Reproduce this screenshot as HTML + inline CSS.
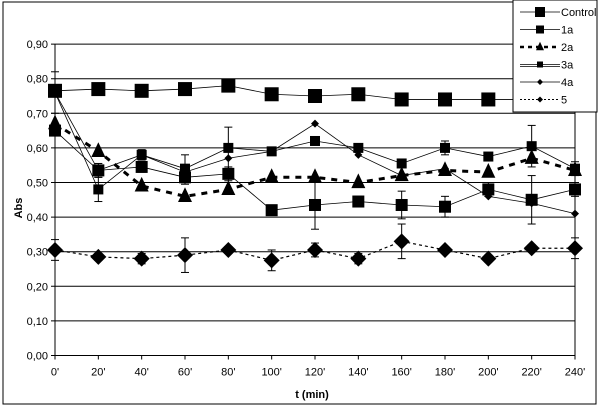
<!DOCTYPE html>
<html><head><meta charset="utf-8"><style>
body{margin:0;background:#fff}
svg{display:block;font-family:"Liberation Sans",Arial,sans-serif}
</style></head><body>
<svg id="c" width="600" height="411" viewBox="0 0 600 411">
<rect x="3" y="2" width="593" height="402" fill="#fff" stroke="#000" stroke-width="1"/>
<g id="grid"></g><g id="series"></g><g id="axes"></g>
<text x="0" y="0" transform="translate(22,208) rotate(-90)" text-anchor="middle" font-size="11" font-weight="bold">Abs</text>
<text x="312" y="398" text-anchor="middle" font-size="11" font-weight="bold">t (min)</text>
<g id="legend"></g>
</svg>
<script>
const categories=["0'","20'","40'","60'","80'","100'","120'","140'","160'","180'","200'","220'","240'"];
const yTicks=[0,0.1,0.2,0.3,0.4,0.5,0.6,0.7,0.8,0.9];
const control=[0.765,0.77,0.765,0.77,0.78,0.755,0.75,0.755,0.74,0.74,0.74,0.74,0.74];
const s1a=[0.76,0.48,0.58,0.54,0.60,0.59,0.62,0.60,0.555,0.60,0.575,0.605,0.54];
const s2a=[0.67,0.59,0.49,0.46,0.48,0.515,0.515,0.50,0.52,0.535,0.53,0.57,0.535];
const s3a=[0.65,0.535,0.545,0.515,0.525,0.42,0.435,0.445,0.435,0.43,0.48,0.45,0.48];
const s4a=[0.76,0.535,0.58,0.53,0.57,0.59,0.67,0.58,0.52,0.54,0.46,0.44,0.41];
const s5=[0.305,0.285,0.28,0.29,0.305,0.275,0.305,0.28,0.33,0.305,0.28,0.31,0.31];
const err1a=[0.06,0.035,0.015,0.04,0.06,0.01,0.01,0.01,0.01,0.02,0.01,0.06,0.02];
const err3a=[0.01,0.02,0.015,0.02,0.02,0.015,0.07,0.015,0.04,0.03,0.02,0.07,0.02];
const err5=[0.03,0.01,0.015,0.05,0.01,0.03,0.02,0.015,0.05,0.01,0.01,0.01,0.03];
const NS="http://www.w3.org/2000/svg";
const x0=55,x1=575,y0=355.5,yPer=346;
const xs=i=>x0+i*(x1-x0)/(categories.length-1);
const ys=v=>y0-v*yPer;
function mk(tag,at,parent){const e=document.createElementNS(NS,tag);for(const k in at)e.setAttribute(k,at[k]);parent.appendChild(e);return e;}
const grid=document.getElementById('grid'),axes=document.getElementById('axes'),ser=document.getElementById('series'),leg=document.getElementById('legend');
yTicks.forEach(t=>{
 const l=mk('line',{x1:x0-4,x2:x1,y1:ys(t),y2:ys(t),stroke:'#000','stroke-width':1},grid);
 
 
 const tx=mk('text',{x:x0-7,y:ys(t)+4,'text-anchor':'end','font-size':11},axes);
 tx.textContent=t.toFixed(2).replace('.',',');
 
 
});
mk('line',{x1:x0,x2:x0,y1:ys(0.9),y2:ys(0),stroke:'#000'},axes);
mk('line',{x1:x1,x2:x1,y1:ys(0.9),y2:ys(0)+4,stroke:'#000'},axes);
categories.forEach((c,i)=>{
 mk('line',{x1:xs(i),x2:xs(i),y1:ys(0),y2:ys(0)+4,stroke:'#000'},axes);
 const tx=mk('text',{x:xs(i),y:ys(0)+20,'text-anchor':'middle','font-size':11},axes);
 tx.textContent=c;
 
 
});
function marker(type,x,y,s,g){
 if(type==='sq')return mk('rect',{x:x-s,y:y-s,width:2*s,height:2*s,fill:'#000'},g);
 if(type==='tri')return mk('polygon',{points:`${x},${y-s*1.3} ${x-s},${y+s*0.8} ${x+s},${y+s*0.8}`,fill:'#000'},g);
 if(type==='dia')return mk('polygon',{points:`${x},${y-s} ${x+s},${y} ${x},${y+s} ${x-s},${y}`,fill:'#000'},g);
}
function series(name,vals,type,size,dash,width,err){
 const g=mk('g',{},ser);
 
 
 if(err)vals.forEach((v,i)=>{const x=xs(i);
  mk('line',{x1:x,x2:x,y1:ys(v+err[i]),y2:ys(v-err[i]),stroke:'#000'},g);
  mk('line',{x1:x-4,x2:x+4,y1:ys(v+err[i]),y2:ys(v+err[i]),stroke:'#000'},g);
  mk('line',{x1:x-4,x2:x+4,y1:ys(v-err[i]),y2:ys(v-err[i]),stroke:'#000'},g);});
 const p=mk('polyline',{points:vals.map((v,i)=>xs(i)+','+ys(v)).join(' '),fill:'none',stroke:'#000','stroke-width':width},g);
 if(dash)p.setAttribute('stroke-dasharray',dash);
 vals.forEach((v,i)=>{const m=marker(type,xs(i),ys(v),size,g);
  
  });
}
series('control',control,'sq',7,null,0.8,null);
series('1a',s1a,'sq',5,null,0.8,err1a);
series('2a',s2a,'tri',7,'6,6',3,null);
series('3a',s3a,'sq',6,null,0.8,err3a);
series('4a',s4a,'dia',4,null,0.8,null);
series('5',s5,'dia',8,'3,3',1.2,err5);
// legend
const lb=mk('rect',{x:513,y:0,width:84,height:112,fill:'#fff',stroke:'#000'},leg);


const L=[['Control','sq',5,null,0.8],['1a','sq',4,null,0.8],['2a','tri',4,'4,4',2.5],['3a','sq',3,null,0.8],['4a','dia',3,null,0.8],['5','dia',3,'2,2',1]];
L.forEach((e,i)=>{const y=12+i*17.5;
 const g=mk('g',{},leg);
 
 
 const l=mk('line',{x1:520,x2:560,y1:y,y2:y,stroke:'#000','stroke-width':e[4]},g);
 if(e[3])l.setAttribute('stroke-dasharray',e[3]);
 if(e[0]==='3a')mk('line',{x1:520,x2:560,y1:y+2,y2:y+2,stroke:'#000','stroke-width':0.8},g);
 marker(e[1],540,y,e[2],g);
 const t=mk('text',{x:561,y:y+4,'font-size':11},g);t.textContent=e[0];});
</script>
</body></html>
